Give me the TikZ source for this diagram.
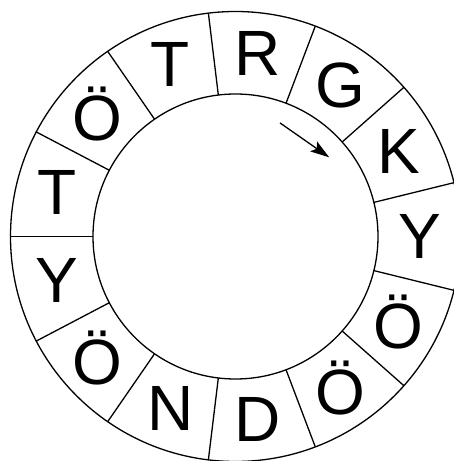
\documentclass[tikz,border=0pt]{standalone}
\usepackage{fontspec}
\setmainfont{Liberation Sans}
\usetikzlibrary{arrows.meta}

\begin{document}
\begin{tikzpicture}[
  x=1pt, y=1pt,
  ring/.style = { line width=1.3pt },
  letter/.style = { font=\fontsize{64}{64}\selectfont, inner sep=0pt },
  arr/.style = { -{Stealth[length=19pt,width=12pt,inset=4pt]}, line width=1.3pt }
]
\useasboundingbox (-235.5,-224.5) rectangle (218.5,236.5);

\draw[ring] (0,0) circle[radius=225];
\draw[ring] (0,0) circle[radius=142.5];
\foreach \k in {0,...,12}
  \draw[ring] ({180-\k*360/13}:142.5) -- ({180-\k*360/13}:225);

\foreach \txt [count=\i] in {T,Ö,T,R,G,K,Y,Ö,Ö,D,N,Ö,Y}
  \node[letter] (sector\i) at ({180-(\i-0.5)*360/13}:184) {\txt};

\coordinate (arrstart) at (68.6:122);
\coordinate (arrend)   at (40.2:122.7);
\draw[arr] (arrstart) -- (arrend);

\end{tikzpicture}
\end{document}
